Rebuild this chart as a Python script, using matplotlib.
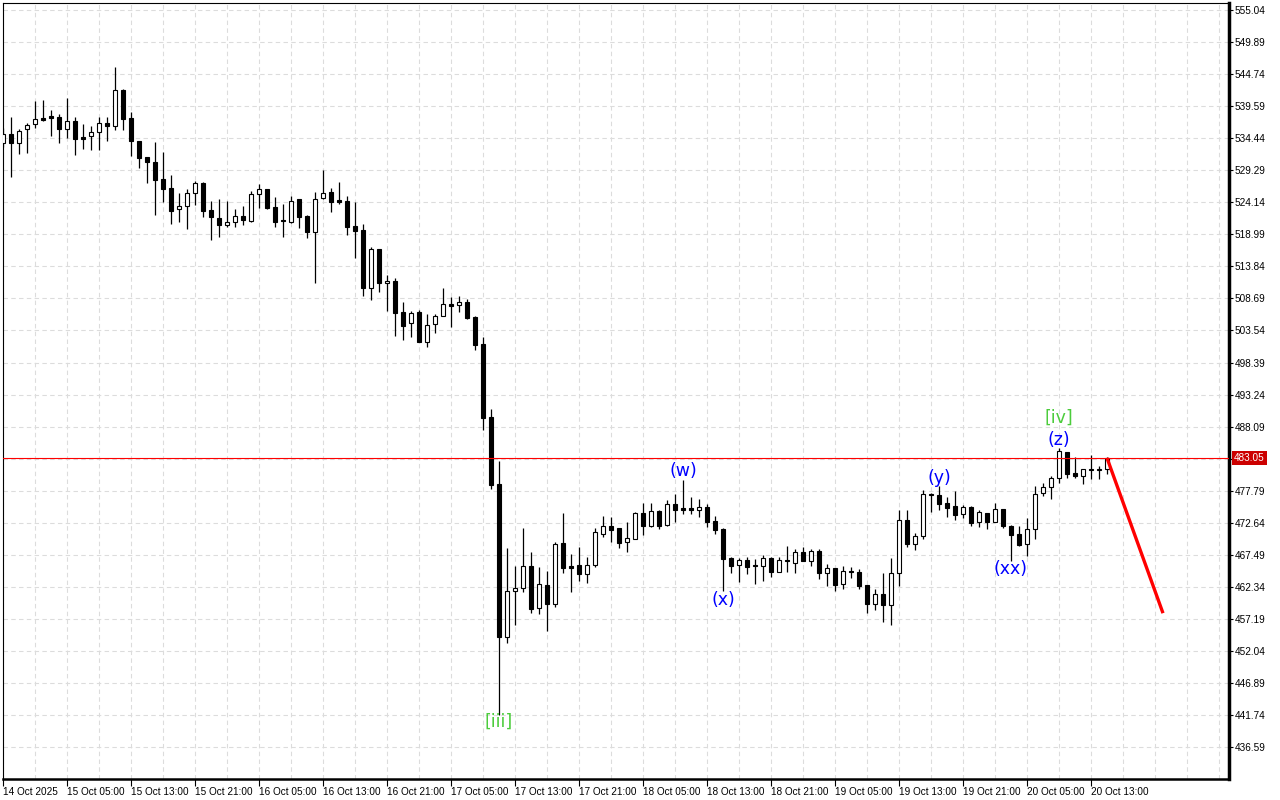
import matplotlib
matplotlib.use('Agg')
import matplotlib.pyplot as plt
import matplotlib.transforms as mtransforms
import numpy as np

# H1 candles, first bar 14 Oct 2025 21:00
opens = [533.66, 535.11, 533.62, 535.96, 536.67, 537.68, 538.00, 537.84, 535.96, 537.20,
         534.63, 534.74, 535.38, 536.88, 536.35, 542.18, 537.68, 533.99, 531.42, 530.61,
         527.93, 526.43, 523.01, 523.49, 525.58, 527.19, 522.85, 521.56, 520.53, 520.92,
         521.88, 521.18, 525.42, 526.22, 523.33, 521.29, 521.02, 524.62, 521.93, 519.41,
         524.78, 525.74, 524.46, 524.29, 520.28, 519.63, 510.31, 516.58, 511.12, 511.44,
         506.50, 504.69, 506.50, 501.73, 504.53, 505.81, 507.79, 507.58, 508.06, 505.70,
         501.31, 489.63, 478.81, 454.32, 461.61, 462.10, 465.68, 458.88, 462.58, 459.65,
         469.33, 465.68, 465.84, 464.35, 465.79, 470.77, 472.06, 471.74, 469.49, 470.07,
         474.20, 472.06, 474.52, 472.22, 475.64, 474.95, 474.95, 474.73, 475.16, 472.91,
         471.63, 466.97, 465.79, 466.69, 465.73, 465.63, 466.97, 464.77, 466.64, 466.11,
         467.93, 466.53, 468.09, 464.51, 465.31, 462.74, 464.88, 464.67, 462.58, 459.62,
         461.18, 459.46, 464.60, 473.02, 469.27, 470.55, 477.25, 477.09, 475.81, 475.32,
         473.99, 475.12, 472.70, 474.20, 472.80, 474.79, 472.11, 470.77, 469.17, 471.58,
         477.36, 478.33, 479.77, 483.95, 480.62, 480.09, 481.22, 481.06, 481.22]
highs = [536.07, 537.79, 535.91, 536.93, 540.41, 540.57, 538.97, 538.33, 540.90, 537.84,
         536.72, 536.40, 537.84, 537.84, 545.93, 542.34, 538.65, 533.99, 531.42, 533.83,
         532.27, 528.47, 525.63, 526.27, 527.56, 527.35, 524.39, 524.67, 524.34, 523.01,
         523.54, 525.95, 527.03, 526.22, 524.99, 523.81, 525.15, 524.62, 522.05, 525.74,
         529.33, 526.48, 527.35, 525.15, 524.13, 520.60, 516.90, 516.68, 512.40, 511.92,
         508.06, 506.66, 506.87, 506.18, 506.18, 510.36, 508.91, 509.07, 508.59, 505.86,
         502.44, 490.87, 482.51, 468.57, 465.68, 471.79, 467.89, 465.47, 464.88, 469.54,
         474.20, 467.56, 468.73, 467.13, 471.79, 473.72, 473.60, 471.74, 472.75, 474.41,
         475.81, 475.81, 474.68, 476.34, 477.20, 479.50, 476.77, 476.45, 475.64, 473.72,
         471.79, 467.18, 467.02, 467.08, 466.76, 467.40, 467.18, 467.08, 468.85, 468.41,
         468.78, 468.37, 468.37, 466.00, 465.31, 465.63, 465.57, 465.20, 462.58, 461.93,
         464.56, 466.97, 474.68, 474.68, 470.93, 477.85, 477.46, 478.54, 476.72, 477.69,
         475.44, 475.28, 474.63, 474.20, 475.81, 474.79, 472.27, 472.11, 473.44, 478.54,
         479.07, 480.14, 484.60, 483.95, 483.15, 481.22, 483.52, 481.70, 483.15]
lows = [533.02, 528.15, 531.90, 532.10, 536.03, 537.25, 534.79, 533.71, 534.47, 531.78,
        532.75, 532.54, 532.54, 534.04, 535.76, 535.76, 531.58, 529.70, 527.29, 522.09,
        524.23, 520.65, 521.02, 519.89, 523.75, 521.72, 518.08, 518.60, 520.21, 520.21,
        520.49, 520.97, 523.27, 523.01, 520.21, 518.60, 520.86, 520.05, 518.45, 511.21,
        524.62, 522.62, 523.91, 518.93, 515.23, 509.13, 508.39, 509.77, 506.71, 502.70,
        501.96, 502.53, 501.73, 500.93, 503.08, 505.81, 504.14, 506.55, 505.33, 500.40,
        487.54, 478.06, 441.73, 453.35, 456.25, 461.55, 458.17, 458.01, 455.28, 459.14,
        464.60, 461.55, 463.32, 462.99, 465.52, 470.39, 469.59, 468.62, 467.98, 470.07,
        470.66, 472.00, 471.58, 472.11, 472.75, 473.99, 473.99, 473.60, 471.90, 470.77,
        461.61, 464.60, 463.16, 464.44, 462.84, 463.32, 463.86, 464.77, 464.77, 464.60,
        466.53, 465.68, 463.64, 462.51, 461.71, 462.03, 463.80, 462.03, 458.17, 458.66,
        456.68, 456.25, 462.47, 468.73, 468.30, 469.97, 474.36, 474.68, 473.60, 473.07,
        473.40, 472.11, 472.00, 471.67, 472.80, 471.79, 466.53, 468.89, 467.34, 470.02,
        476.98, 476.50, 479.07, 479.77, 479.82, 478.91, 479.71, 479.71, 480.47]
closes = [535.11, 533.62, 535.59, 536.51, 537.47, 537.36, 537.73, 535.96, 537.20, 534.36,
          534.36, 535.43, 536.88, 536.35, 542.18, 537.57, 534.04, 531.30, 530.66, 527.77,
          526.32, 522.79, 523.49, 525.58, 527.19, 522.79, 521.82, 520.53, 520.92, 521.88,
          521.34, 525.42, 526.22, 523.27, 521.02, 521.18, 524.39, 521.82, 519.41, 524.71,
          525.68, 524.23, 524.18, 520.21, 519.57, 510.41, 516.58, 511.12, 511.44, 506.39,
          504.21, 506.29, 501.73, 504.41, 505.81, 507.74, 507.52, 508.06, 505.59, 501.25,
          489.52, 478.75, 454.32, 461.61, 462.10, 465.68, 458.72, 462.74, 459.65, 469.17,
          465.41, 465.41, 464.35, 465.79, 471.15, 472.06, 471.51, 469.43, 470.13, 474.25,
          472.06, 474.47, 472.16, 475.64, 474.73, 474.68, 474.68, 475.12, 472.80, 471.51,
          466.85, 465.73, 466.69, 465.57, 465.63, 466.92, 464.77, 466.64, 466.53, 467.88,
          466.53, 468.04, 464.51, 465.31, 462.68, 464.88, 464.72, 462.47, 459.62, 461.13,
          459.46, 464.51, 473.02, 469.27, 470.45, 477.20, 477.04, 475.69, 475.05, 473.92,
          475.12, 472.64, 474.36, 472.80, 474.79, 472.16, 470.66, 469.05, 471.63, 477.20,
          478.33, 479.77, 484.12, 480.51, 480.19, 481.22, 481.06, 481.22, 483.05]

current_price = 483.05
forecast_x = [138, 145]
forecast_y = [483.05, 458.10]

price_ticks = [436.59, 441.74, 446.89, 452.04, 457.19, 462.34, 467.49, 472.64, 477.79,
               482.94, 488.09, 493.24, 498.39, 503.54, 508.69, 513.84, 518.99, 524.14,
               529.29, 534.44, 539.59, 544.74, 549.89, 555.04]
time_tick_pos = [0, 8, 16, 24, 32, 40, 48, 56, 64, 72, 80, 88, 96, 104, 112, 120, 128, 136]
time_labels = ['14 Oct 2025', '15 Oct 05:00', '15 Oct 13:00', '15 Oct 21:00', '16 Oct 05:00',
               '16 Oct 13:00', '16 Oct 21:00', '17 Oct 05:00', '17 Oct 13:00', '17 Oct 21:00',
               '18 Oct 05:00', '18 Oct 13:00', '18 Oct 21:00', '19 Oct 05:00', '19 Oct 13:00',
               '19 Oct 21:00', '20 Oct 05:00', '20 Oct 13:00']

wave_labels = ['[iii]', '[iv]', '(z)', '(w)', '(x)', '(y)', '(xx)']
wave_x = [62, 132, 132, 85, 90, 117, 125.9]
wave_y = [440.6, 489.5, 485.9, 481.0, 460.2, 479.8, 465.2]
wave_colors = ['#4ccc3c', '#4ccc3c', 'blue', 'blue', 'blue', 'blue', 'blue']

o = np.array(opens); h = np.array(highs); l = np.array(lows); c = np.array(closes)
x = np.arange(len(o))
up = c >= o

fig = plt.figure(figsize=(12.8, 8), dpi=100, facecolor='white')
ax = fig.add_axes([3/1280, 21/800, 1226/1280, 776/800])

ax.vlines(x, l, h, color='black', lw=0.9, zorder=2)
ax.bar(x, np.maximum(np.abs(c - o), 0.15), bottom=np.minimum(o, c), width=0.62,
       color=np.where(up, 'white', 'black'), edgecolor='black', linewidth=0.8, zorder=3)

ax.axhline(current_price, color='red', lw=0.8, zorder=4)
ax.plot(forecast_x, forecast_y, color='red', lw=2.4, solid_capstyle='butt', zorder=5)

for t, wx, wy, col in zip(wave_labels, wave_x, wave_y, wave_colors):
    ax.text(wx, wy, t, color=col, fontsize=12.5, ha='center', va='center', zorder=6)

ax.set_xlim(0, 153.25)
ax.set_ylim(431.45, 556.17)

ax.yaxis.tick_right()
ax.set_yticks(price_ticks)
ax.set_yticklabels([f'{p:.2f}' for p in price_ticks])
ax.set_xticks(time_tick_pos)
ax.set_xticklabels(time_labels, ha='left')
ax.set_xticks(np.arange(0, 154, 4), minor=True)
ax.tick_params(axis='y', which='major', direction='out', length=3, width=0.8, pad=1,
               labelsize=7.2, labelfontfamily='Liberation Sans')
ax.tick_params(axis='x', which='major', direction='out', length=5, width=0.8, pad=1,
               labelsize=7.2, labelfontfamily='Liberation Sans')
ax.tick_params(axis='x', which='minor', length=0)

ax.grid(True, axis='x', which='both', color='#dcdcdc', lw=0.8, ls=(0, (4, 3)), zorder=0)
ax.grid(True, axis='y', which='major', color='#dcdcdc', lw=0.8, ls=(0, (4, 3)), zorder=0)
ax.set_axisbelow(True)

for s in ['left', 'top']:
    ax.spines[s].set_linewidth(0.8)
ax.spines['right'].set_linewidth(2.5)
ax.spines['bottom'].set_linewidth(1.8)

trans = mtransforms.blended_transform_factory(ax.transAxes, ax.transData)
ax.text(1.004, current_price, f'{current_price:.2f}', transform=trans, ha='left', va='center',
        color='white', fontsize=7.2, family='Liberation Sans',
        bbox=dict(facecolor='#cc0000', edgecolor='none', pad=1.6), zorder=10, clip_on=False)

fig.savefig('out.png', dpi=100, facecolor='white')
